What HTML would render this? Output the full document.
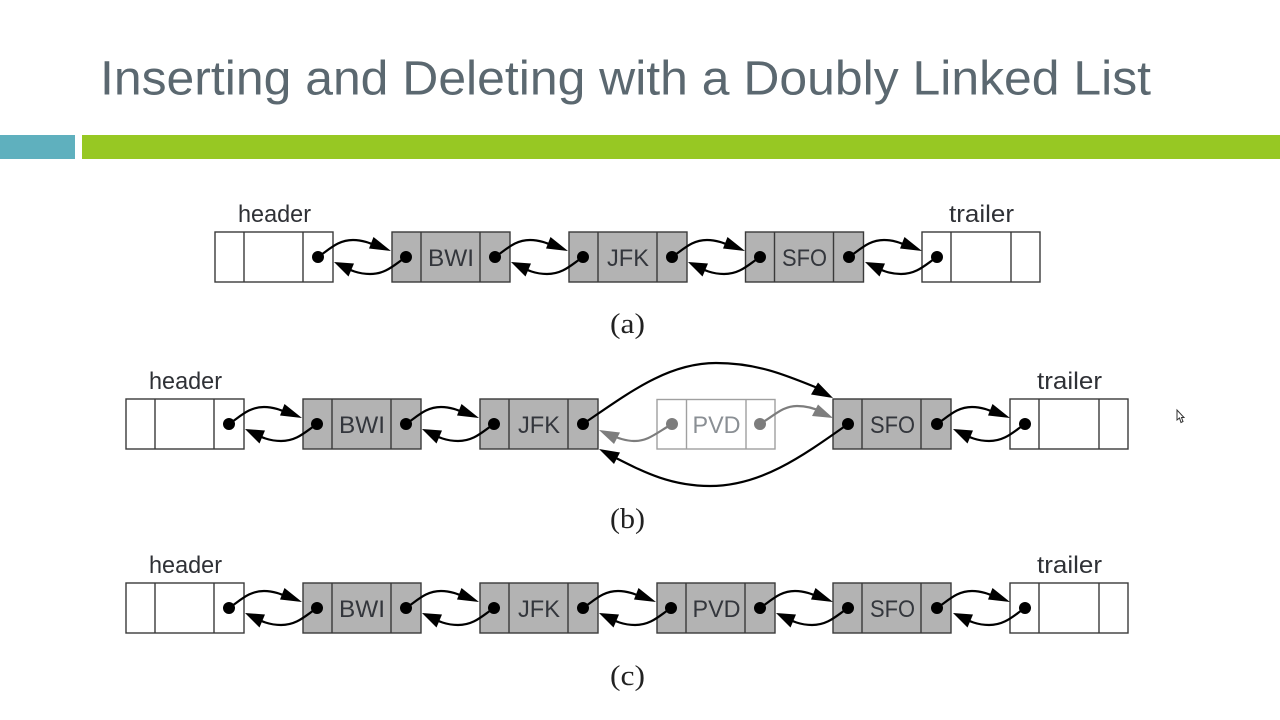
<!DOCTYPE html>
<html>
<head>
<meta charset="utf-8">
<style>
html,body{margin:0;padding:0;background:#fff;width:1280px;height:720px;overflow:hidden}
svg{display:block}
.lbl{font-family:"Liberation Sans",sans-serif;font-size:24px;fill:#2f3136}
.nm{font-family:"Liberation Sans",sans-serif;font-size:24.5px;fill:#33363c}
.cap{font-family:"Liberation Serif",serif;font-size:28px;fill:#222}
.box{fill:#fff;stroke:#3a3a3a;stroke-width:1.4}
.g{fill:#b3b3b3;stroke:#3a3a3a;stroke-width:1.4}
</style>
</head>
<body>
<svg width="1280" height="720" viewBox="0 0 1280 720" xmlns="http://www.w3.org/2000/svg">
<defs>
<g id="pair">
  <path d="M0,0C12,-8 20,-17 35,-17C47,-17 56,-12 64,-9" fill="none" stroke="#000" stroke-width="2.2"/>
  <polygon points="73,-6 55.5,-20 51,-8.5" fill="#000"/>
  <path d="M88,0C76,8 68,17 52,17C40,17 32,13 24,9" fill="none" stroke="#000" stroke-width="2.2"/>
  <polygon points="16,5 36,6.5 30.5,19.5" fill="#000"/>
</g>
<g id="ends">
  <circle cx="0" cy="0" r="6" fill="#000"/>
  <circle cx="88" cy="0" r="6" fill="#000"/>
</g>
<g id="lines"><path d="M29,0V50M88,0V50" stroke="#3a3a3a" stroke-width="1.4" fill="none"/></g>
<g id="wnode"><rect x="0" y="0" width="118" height="50" class="box"/><use href="#lines"/></g>
<g id="gnode"><rect x="0" y="0" width="118" height="50" class="g"/><use href="#lines"/></g>
</defs>

<text x="100" y="94.5" font-family="Liberation Sans, sans-serif" font-size="48" fill="#5b6870" textLength="1051" lengthAdjust="spacingAndGlyphs">Inserting and Deleting with a Doubly Linked List</text>
<rect x="0" y="135" width="75" height="24" fill="#5fb0be"/>
<rect x="82" y="135" width="1198" height="24" fill="#97c823"/>

<!-- row a -->
<g transform="translate(0,232)">
  <use href="#wnode" x="215"/><use href="#gnode" x="392"/><use href="#gnode" x="569"/><use href="#gnode" x="745.5"/>
  <g transform="translate(922,0)"><rect x="0" y="0" width="118" height="50" class="box"/><path d="M29,0V50M89,0V50" stroke="#3a3a3a" stroke-width="1.4"/></g>
</g>
<g transform="translate(318,257)"><use href="#pair"/><use href="#ends"/></g>
<g transform="translate(495,257)"><use href="#pair"/><use href="#ends"/></g>
<g transform="translate(672,257)"><use href="#pair"/><use href="#ends"/></g>
<g transform="translate(849,257)"><use href="#pair"/><use href="#ends"/></g>
<text class="lbl" x="238" y="222" textLength="73" lengthAdjust="spacingAndGlyphs">header</text>
<text class="lbl" x="949" y="222" textLength="65" lengthAdjust="spacingAndGlyphs">trailer</text>
<text class="nm" x="428" y="266" textLength="46" lengthAdjust="spacingAndGlyphs">BWI</text>
<text class="nm" x="607" y="266" textLength="42" lengthAdjust="spacingAndGlyphs">JFK</text>
<text class="nm" x="782" y="266" textLength="45" lengthAdjust="spacingAndGlyphs">SFO</text>
<text class="cap" x="610" y="333" textLength="35" lengthAdjust="spacingAndGlyphs">(a)</text>

<!-- row b -->
<g transform="translate(0,399)">
  <use href="#wnode" x="126"/><use href="#gnode" x="303"/><use href="#gnode" x="480"/><use href="#gnode" x="833"/>
  <g transform="translate(1010,0)"><rect x="0" y="0" width="118" height="50" class="box"/><path d="M29,0V50M89,0V50" stroke="#3a3a3a" stroke-width="1.4"/></g>
  <g transform="translate(657,0)"><rect x="0" y="0.5" width="118" height="49.5" fill="#fff" stroke="#a0a0a0" stroke-width="1.4"/><path d="M29.5,0V50M89,0V50" stroke="#a0a0a0" stroke-width="1.4"/></g>
</g>
<g transform="translate(229,424)"><use href="#pair"/><use href="#ends"/></g>
<g transform="translate(406,424)"><use href="#pair"/><use href="#ends"/></g>
<g transform="translate(937,424)"><use href="#pair"/><use href="#ends"/></g>
<circle cx="583" cy="424" r="6" fill="#000"/>
<circle cx="848" cy="424" r="6" fill="#000"/>
<path d="M583,424C630,392 668,363 716,363C760,363 790,377 820,389" fill="none" stroke="#000" stroke-width="2.2"/>
<polygon points="833,398 818,382.5 811,394.5" fill="#000"/>
<path d="M848,424C800,458 760,486 710,486C668,486 640,470 612,456" fill="none" stroke="#000" stroke-width="2.2"/>
<polygon points="599,449 620,452.5 614,464" fill="#000"/>
<circle cx="672" cy="424" r="6" fill="#7d7d7d"/>
<circle cx="760" cy="424" r="6" fill="#7d7d7d"/>
<path d="M672,424C655,434 648,441 634,441C626,441 618,438 610,435" fill="none" stroke="#7d7d7d" stroke-width="2.2"/>
<polygon points="599,430 620,432.5 614,444" fill="#7d7d7d"/>
<path d="M760,424C775,415 783,406 797,406C806,406 814,408 822,412" fill="none" stroke="#7d7d7d" stroke-width="2.2"/>
<polygon points="833,418 818,404.5 812,416" fill="#7d7d7d"/>
<text class="lbl" x="149" y="389" textLength="73" lengthAdjust="spacingAndGlyphs">header</text>
<text class="lbl" x="1037" y="389" textLength="65" lengthAdjust="spacingAndGlyphs">trailer</text>
<text class="nm" x="339" y="433" textLength="46" lengthAdjust="spacingAndGlyphs">BWI</text>
<text class="nm" x="518" y="433" textLength="42" lengthAdjust="spacingAndGlyphs">JFK</text>
<text class="nm" x="692.5" y="433" textLength="48" lengthAdjust="spacingAndGlyphs" style="fill:#8a8f94">PVD</text>
<text class="nm" x="870" y="433" textLength="45" lengthAdjust="spacingAndGlyphs">SFO</text>
<text class="cap" x="610" y="528" textLength="35" lengthAdjust="spacingAndGlyphs">(b)</text>

<!-- row c -->
<g transform="translate(0,583)">
  <use href="#wnode" x="126"/><use href="#gnode" x="303"/><use href="#gnode" x="480"/><use href="#gnode" x="657"/><use href="#gnode" x="833"/>
  <g transform="translate(1010,0)"><rect x="0" y="0" width="118" height="50" class="box"/><path d="M29,0V50M89,0V50" stroke="#3a3a3a" stroke-width="1.4"/></g>
</g>
<g transform="translate(229,608)"><use href="#pair"/><use href="#ends"/></g>
<g transform="translate(406,608)"><use href="#pair"/><use href="#ends"/></g>
<g transform="translate(583,608)"><use href="#pair"/><use href="#ends"/></g>
<g transform="translate(760,608)"><use href="#pair"/><use href="#ends"/></g>
<g transform="translate(937,608)"><use href="#pair"/><use href="#ends"/></g>
<text class="lbl" x="149" y="573" textLength="73" lengthAdjust="spacingAndGlyphs">header</text>
<text class="lbl" x="1037" y="573" textLength="65" lengthAdjust="spacingAndGlyphs">trailer</text>
<text class="nm" x="339" y="617" textLength="46" lengthAdjust="spacingAndGlyphs">BWI</text>
<text class="nm" x="518" y="617" textLength="42" lengthAdjust="spacingAndGlyphs">JFK</text>
<text class="nm" x="692.5" y="617" textLength="48" lengthAdjust="spacingAndGlyphs">PVD</text>
<text class="nm" x="870" y="617" textLength="45" lengthAdjust="spacingAndGlyphs">SFO</text>
<text class="cap" x="610" y="685" textLength="35" lengthAdjust="spacingAndGlyphs">(c)</text>

<!-- cursor -->
<path d="M1177,410V420L1179.5,418L1181,422.5L1183,421.5L1181.5,417.5H1184Z" fill="#fff" stroke="#333" stroke-width="1"/>
</svg>
</body>
</html>
